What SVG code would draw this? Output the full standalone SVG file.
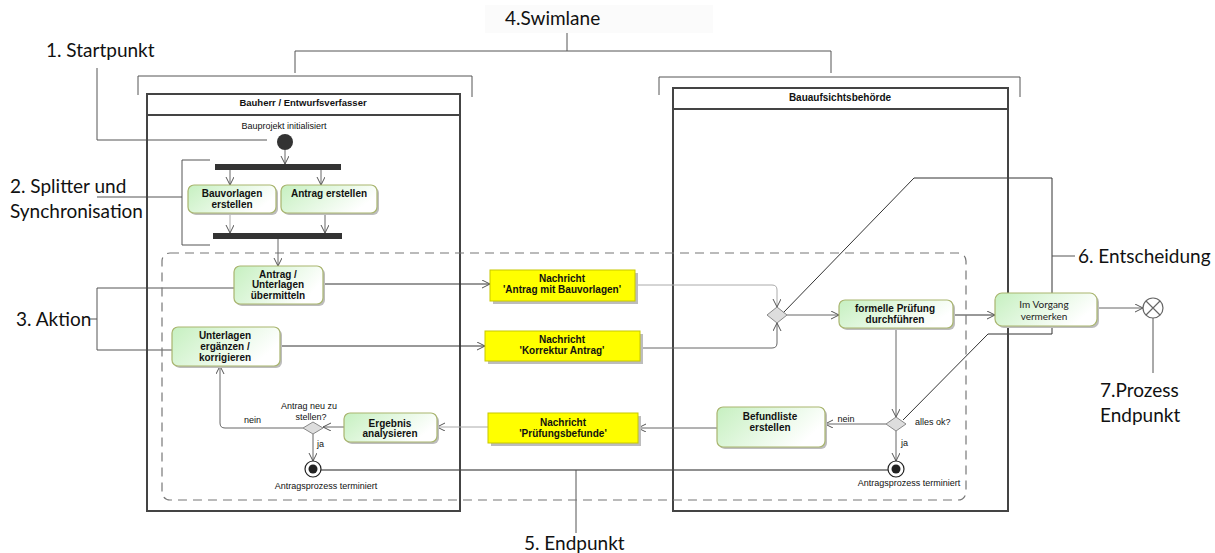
<svg xmlns="http://www.w3.org/2000/svg" width="1215" height="553" viewBox="0 0 1215 553">
<style>
.ann{font-family:Lato,"Open Sans",sans-serif;font-size:19px;fill:#111}
.t{font-family:"Liberation Sans",Arial,sans-serif;font-size:9px;fill:#111}
.b{font-family:"Liberation Sans",Arial,sans-serif;font-size:10px;font-weight:bold;fill:#111;text-anchor:middle}
.act{fill:url(#g);stroke:#a9b56f;stroke-width:1.2}
.msg{fill:#ffff00;stroke:#c8c800;stroke-width:1}
.sh{fill:#bdbdbd}
.lane{fill:none;stroke:#444;stroke-width:2}
.al{fill:none;stroke:#555;stroke-width:1}
.c{fill:none;stroke:#666;stroke-width:1;marker-end:url(#a)}
.cl{fill:none;stroke:#aaa;stroke-width:1;marker-end:url(#a)}
.cd{fill:none;stroke:#333;stroke-width:1;marker-end:url(#a)}
.dia{fill:#ddd;stroke:#888;stroke-width:1}
</style>
<defs>
<linearGradient id="g" x1="0" y1="0" x2="1" y2="0.4">
<stop offset="0" stop-color="#c6f0c0"/>
<stop offset="1" stop-color="#ffffff"/>
</linearGradient>
<marker id="a" markerUnits="userSpaceOnUse" markerWidth="10" markerHeight="10" refX="8" refY="4" orient="auto">
<path d="M0,0 L8,4 L0,8" fill="none" stroke="#555" stroke-width="1"/>
</marker>
</defs>
<rect width="1215" height="553" fill="#fff"/>

<g id="annotations">
<rect x="485" y="5" width="228" height="28" fill="#fbfbfb"/>
<text class="ann" x="505" y="25">4.Swimlane</text>
<path class="al" d="M295,73 V51 H831 V73 M567,33 V51"/>
<path class="al" d="M138,95 V76 H472 V97"/>
<path class="al" d="M659,95 V77 H1020 V97"/>
<text class="ann" x="46" y="57">1. Startpunkt</text>
<path class="al" d="M97,68 V140 H267"/>
<text class="ann" x="10" y="193">2. Splitter und</text>
<text class="ann" x="10" y="218">Synchronisation</text>
<path class="al" d="M97,197 H182 M210,160 H182 V245 H210"/>
<text class="ann" x="16" y="326">3. Aktion</text>
<path class="al" d="M90,319 H97 M240,288 H97 V350 H182"/>
<path d="M320,470 H888" fill="none" stroke="#222" stroke-width="1.2"/>
<path class="al" d="M576,470 V533"/>
<text class="ann" x="524" y="550">5. Endpunkt</text>
<path d="M783,313 L914,178 H1052 V334 H988 L903,420" fill="none" stroke="#333" stroke-width="1"/>
<path class="al" d="M1052,256 H1075"/>
<text class="ann" x="1078" y="263">6. Entscheidung</text>
<path class="al" d="M1153,318 V373"/>
<text class="ann" x="1100" y="397">7.Prozess</text>
<text class="ann" x="1100" y="422">Endpunkt</text>
</g>

<g id="lane-bauherr">
<rect class="lane" x="147" y="94" width="313" height="417"/>
<line x1="147" y1="115" x2="460" y2="115" stroke="#444" stroke-width="2"/>
<text class="b" x="303" y="106" style="font-size:9.5px">Bauherr / Entwurfsverfasser</text>
</g>
<g id="lane-behoerde">
<rect class="lane" x="673" y="88" width="335" height="423"/>
<line x1="673" y1="109" x2="1008" y2="109" stroke="#444" stroke-width="2"/>
<text class="b" x="840" y="101">Bauaufsichtsbehörde</text>
</g>

<g id="region">
<rect x="162" y="253" width="804" height="247" rx="8" fill="none" stroke="#777" stroke-width="1.2" stroke-dasharray="9,6"/>
</g>

<g id="connectors">
<path class="c" d="M285,150 V164"/>
<path class="c" d="M230,170 V185"/>
<path class="c" d="M321,170 V185"/>
<path class="cl" d="M230,213 V233"/>
<path class="c" d="M325,213 V233"/>
<path class="c" d="M278,239 V266"/>
<path class="cd" d="M323,284 H490"/>
<path class="cd" d="M280,346 H485"/>
<path class="cl" d="M635,285 H772 Q777,285 777,290 V307"/>
<path class="c" d="M640,348 H772 Q777,348 777,343 V323"/>
<path class="c" d="M787,315 H839"/>
<path class="cd" d="M953,315 H995"/>
<path class="c" d="M1097,308 H1143"/>
<path class="c" d="M896,328 V417"/>
<path class="c" d="M886,424 H825"/>
<path class="c" d="M896,431 V461"/>
<path class="c" d="M717,428 H638"/>
<path class="cl" d="M488,427 H437"/>
<path class="c" d="M344,427 H323"/>
<path class="c" d="M303,428 H225 Q220,428 220,423 V366"/>
<path class="c" d="M313,434 V461"/>
</g>

<g id="start">
<circle cx="285" cy="142" r="8" fill="#333"/>
<text class="t" x="284" y="129" text-anchor="middle">Bauprojekt initialisiert</text>
</g>
<g id="fork"><rect x="215" y="164" width="126" height="6" fill="#333"/></g>
<g id="join"><rect x="213" y="233" width="129" height="6" fill="#333"/></g>

<g id="bauvorlagen">
<rect class="sh" x="190" y="187" width="88" height="28" rx="6"/>
<rect class="act" x="188" y="185" width="88" height="28" rx="6"/>
<text class="b" x="232" y="197">Bauvorlagen</text>
<text class="b" x="232" y="208">erstellen</text>
</g>
<g id="antrag-erstellen">
<rect class="sh" x="283" y="187" width="96" height="28" rx="6"/>
<rect class="act" x="281" y="185" width="96" height="28" rx="6"/>
<text class="b" x="329" y="197">Antrag erstellen</text>
</g>
<g id="uebermitteln">
<rect class="sh" x="236" y="268" width="89" height="38" rx="6"/>
<rect class="act" x="234" y="266" width="89" height="38" rx="6"/>
<text class="b" x="278" y="277.5">Antrag /</text>
<text class="b" x="278" y="288">Unterlagen</text>
<text class="b" x="278" y="298.5">übermitteln</text>
</g>
<g id="korrigieren">
<rect class="sh" x="174" y="329" width="108" height="39" rx="6"/>
<rect class="act" x="172" y="327" width="108" height="39" rx="6"/>
<text class="b" x="225" y="339">Unterlagen</text>
<text class="b" x="225" y="350">ergänzen /</text>
<text class="b" x="225" y="361">korrigieren</text>
</g>
<g id="analysieren">
<rect class="sh" x="346" y="415" width="93" height="29" rx="6"/>
<rect class="act" x="344" y="413" width="93" height="29" rx="6"/>
<text class="b" x="390" y="426.5">Ergebnis</text>
<text class="b" x="390" y="437">analysieren</text>
</g>
<g id="decision-neu">
<polygon class="dia" points="303,428 313,422 323,428 313,434"/>
<text class="t" x="309" y="409" text-anchor="middle">Antrag neu zu</text>
<text class="t" x="311" y="420" text-anchor="middle">stellen?</text>
<text class="t" x="244" y="423">nein</text>
<text class="t" x="317" y="447">ja</text>
</g>
<g id="end-left">
<circle cx="313" cy="469" r="8" fill="#fff" stroke="#222" stroke-width="1.2"/>
<circle cx="313" cy="469" r="4.5" fill="#222"/>
<text class="t" x="326" y="489" text-anchor="middle">Antragsprozess terminiert</text>
</g>

<g id="msg-antrag">
<rect class="sh" x="493" y="273" width="145" height="31"/>
<rect class="msg" x="490" y="270" width="145" height="31"/>
<text class="b" x="562" y="281.5">Nachricht</text>
<text class="b" x="562" y="292.5">'Antrag mit Bauvorlagen'</text>
</g>
<g id="msg-korrektur">
<rect class="sh" x="488" y="334" width="155" height="30"/>
<rect class="msg" x="485" y="331" width="155" height="30"/>
<text class="b" x="562" y="342.5">Nachricht</text>
<text class="b" x="562" y="353.5">'Korrektur Antrag'</text>
</g>
<g id="msg-befunde">
<rect class="sh" x="491" y="416" width="150" height="30"/>
<rect class="msg" x="488" y="413" width="150" height="30"/>
<text class="b" x="563" y="425.5">Nachricht</text>
<text class="b" x="563" y="436.5">'Prüfungsbefunde'</text>
</g>

<g id="merge">
<polygon class="dia" points="767,315 777,307 787,315 777,323"/>
</g>
<g id="pruefung">
<rect class="sh" x="841" y="302" width="114" height="28" rx="6"/>
<rect class="act" x="839" y="300" width="114" height="28" rx="6"/>
<text class="b" x="895" y="311.5">formelle Prüfung</text>
<text class="b" x="895" y="322.5">durchführen</text>
</g>
<g id="decision-ok">
<polygon class="dia" points="886,424 896,417 906,424 896,431"/>
<text class="t" x="846" y="422" text-anchor="middle">nein</text>
<text class="t" x="915" y="425">alles ok?</text>
<text class="t" x="901" y="446">ja</text>
</g>
<g id="befundliste">
<rect class="sh" x="719" y="409" width="108" height="40" rx="6"/>
<rect class="act" x="717" y="407" width="108" height="40" rx="6"/>
<text class="b" x="770" y="419.5">Befundliste</text>
<text class="b" x="770" y="430.5">erstellen</text>
</g>
<g id="end-right">
<circle cx="896" cy="469" r="8" fill="#fff" stroke="#222" stroke-width="1.2"/>
<circle cx="896" cy="469" r="4.5" fill="#222"/>
<text class="t" x="909" y="486" text-anchor="middle">Antragsprozess terminiert</text>
</g>
<g id="vermerken">
<rect class="sh" x="997" y="295" width="102" height="33" rx="7"/>
<rect class="act" x="995" y="293" width="102" height="33" rx="7"/>
<text x="1044" y="307.5" text-anchor="middle" style="font-family:Lato,'Open Sans',sans-serif;font-size:10px;fill:#222">Im Vorgang</text>
<text x="1044" y="319.5" text-anchor="middle" style="font-family:Lato,'Open Sans',sans-serif;font-size:10px;fill:#222">vermerken</text>
</g>
<g id="flow-end">
<circle cx="1153" cy="308" r="10" fill="#fff" stroke="#666" stroke-width="1.2"/>
<path d="M1146,301 L1160,315 M1160,301 L1146,315" stroke="#666" stroke-width="1.2"/>
</g>
</svg>
